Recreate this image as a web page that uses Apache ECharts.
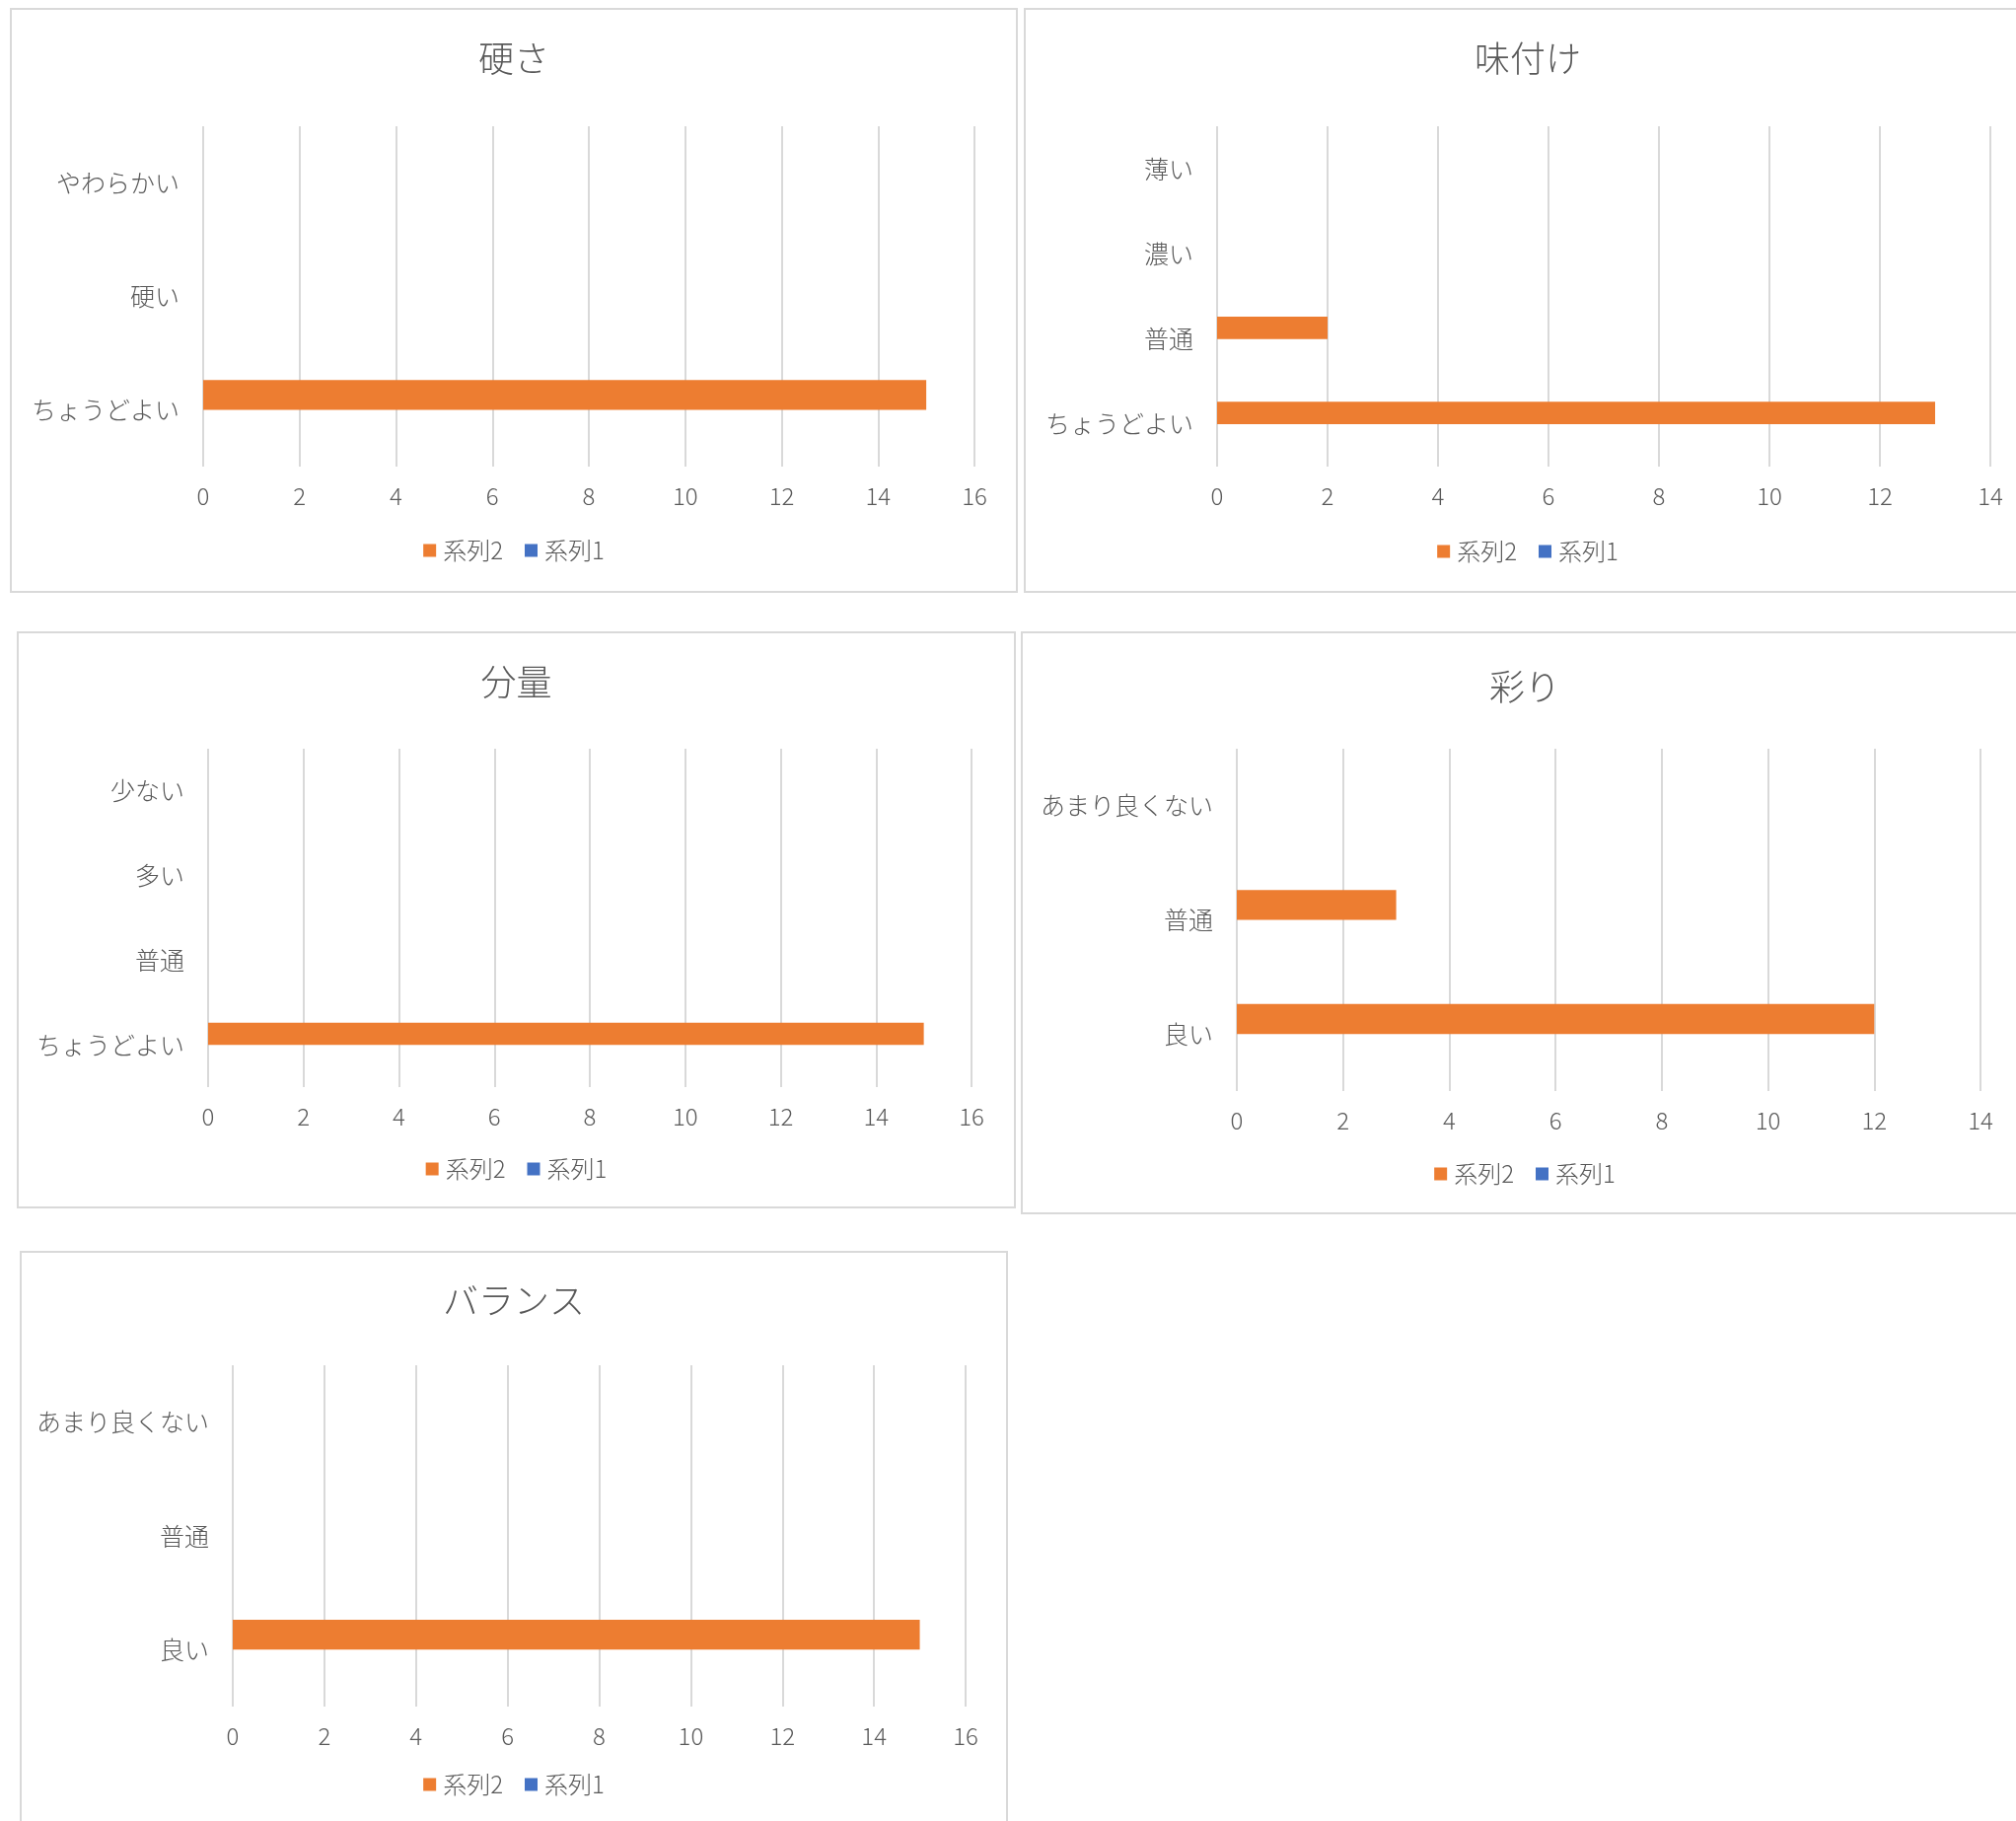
<!DOCTYPE html>
<html>
<head>
<meta charset="utf-8">
<script src="https://cdn.jsdelivr.net/npm/echarts@6/dist/echarts.min.js"></script>
<style>
  html, body { margin:0; padding:0; width:2044px; height:1846px; overflow:hidden; background:#ffffff; }
  .panel { position:absolute; border:2px solid #d9d9d9; box-sizing:border-box; background:#fff; }
</style>
</head>
<body>
<div id="p1" class="panel" style="left:10px;top:8px;width:1022px;height:593px;"></div>
<div id="p2" class="panel" style="left:1038px;top:8px;width:1022px;height:593px;"></div>
<div id="p3" class="panel" style="left:17px;top:640px;width:1013px;height:585px;"></div>
<div id="p4" class="panel" style="left:1035px;top:640px;width:1022px;height:591px;"></div>
<div id="p5" class="panel" style="left:20px;top:1268px;width:1002px;height:600px;"></div>
<script>
// ---- data ----
const seriesNames = ['系列2', '系列1'];

const hardnessTitle = '硬さ';
const hardnessCats = ['ちょうどよい', '硬い', 'やわらかい'];
const hardnessS2 = [15, 0, 0];
const hardnessS1 = [0, 0, 0];
const hardnessMax = 16;

const tasteTitle = '味付け';
const tasteCats = ['ちょうどよい', '普通', '濃い', '薄い'];
const tasteS2 = [13, 2, 0, 0];
const tasteS1 = [0, 0, 0, 0];
const tasteMax = 14;

const amountTitle = '分量';
const amountCats = ['ちょうどよい', '普通', '多い', '少ない'];
const amountS2 = [15, 0, 0, 0];
const amountS1 = [0, 0, 0, 0];
const amountMax = 16;

const colorTitle = '彩り';
const colorCats = ['良い', '普通', 'あまり良くない'];
const colorS2 = [12, 3, 0];
const colorS1 = [0, 0, 0];
const colorMax = 14;

const balanceTitle = 'バランス';
const balanceCats = ['良い', '普通', 'あまり良くない'];
const balanceS2 = [15, 0, 0];
const balanceS1 = [0, 0, 0];
const balanceMax = 16;

// ---- rendering ----
const FONT = '"Noto Sans CJK JP", "Noto Sans", sans-serif';
const TXT = '#595959';
const W = 300;

function makeChart(id, title, cats, s2, s1, max, lay) {
  const chart = echarts.init(document.getElementById(id), null, { renderer: 'canvas' });
  chart.setOption({
    animation: false,
    textStyle: { fontFamily: FONT },
    title: {
      text: title, left: 'center', top: lay.titleTop, padding: 0,
      textStyle: { fontFamily: FONT, fontSize: 36, fontWeight: W, color: TXT }
    },
    legend: {
      data: seriesNames, left: 'center', top: lay.legendTop, padding: 0,
      icon: 'rect', itemWidth: 13, itemHeight: 13, itemGap: 22,
      textStyle: { fontFamily: FONT, fontSize: 24, fontWeight: W, color: TXT, padding: [0, 0, 0, 2] }
    },
    grid: { left: lay.left, top: lay.top, width: lay.width, height: lay.height, containLabel: false },
    xAxis: {
      type: 'value', min: 0, max: max, interval: 2,
      axisLine: { show: false }, axisTick: { show: false },
      splitLine: { show: true, lineStyle: { color: '#d9d9d9', width: 2 } },
      axisLabel: { fontFamily: FONT, fontSize: 24, fontWeight: W, color: TXT, margin: 18 }
    },
    yAxis: {
      type: 'category', data: cats,
      axisLine: { show: false }, axisTick: { show: false },
      splitLine: { show: false },
      axisLabel: { fontFamily: FONT, fontSize: 25, fontWeight: W, color: TXT, margin: 24 }
    },
    series: [
      { name: seriesNames[0], type: 'bar', data: s2, itemStyle: { color: '#ED7D31' },
        barGap: '0%', barCategoryGap: '47.6%' },
      { name: seriesNames[1], type: 'bar', data: s1, itemStyle: { color: '#4472C4' },
        barGap: '0%', barCategoryGap: '47.6%' }
    ]
  });
}

makeChart('p1', hardnessTitle, hardnessCats, hardnessS2, hardnessS1, hardnessMax,
  { left: 194, top: 118, width: 782, height: 345, titleTop: 31, legendTop: 536 });
makeChart('p2', tasteTitle, tasteCats, tasteS2, tasteS1, tasteMax,
  { left: 194, top: 118, width: 784, height: 345, titleTop: 31, legendTop: 537 });
makeChart('p3', amountTitle, amountCats, amountS2, amountS1, amountMax,
  { left: 192, top: 117, width: 774, height: 343, titleTop: 31, legendTop: 531 });
makeChart('p4', colorTitle, colorCats, colorS2, colorS1, colorMax,
  { left: 217, top: 117, width: 754, height: 347, titleTop: 36, legendTop: 536 });
makeChart('p5', balanceTitle, balanceCats, balanceS2, balanceS1, balanceMax,
  { left: 214, top: 114, width: 743, height: 346, titleTop: 30, legendTop: 527 });
</script>
</body>
</html>
